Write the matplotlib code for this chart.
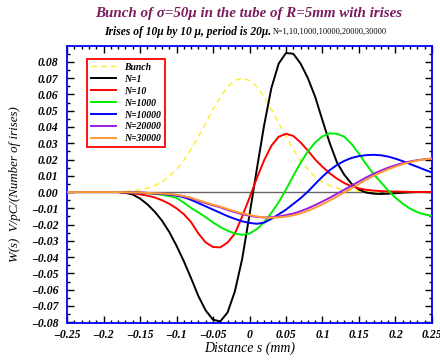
import numpy as np
import matplotlib
matplotlib.use('Agg')
import matplotlib.pyplot as plt
from matplotlib.ticker import MultipleLocator, FuncFormatter

# distance s (mm), one sample every 0.01 mm
s = np.round(np.arange(-0.25, 0.2501, 0.01), 2)

bunch = [0, 0, 0, 0, 0, 0, 0, 0.0002, 0.0004, 0.0008,
         0.0014, 0.0024, 0.0039, 0.0062, 0.0095, 0.0139, 0.0194, 0.0263, 0.0341, 0.0425,
         0.0508, 0.0585, 0.0648, 0.0686, 0.0700, 0.0686, 0.0648, 0.0585, 0.0508, 0.0425,
         0.0341, 0.0263, 0.0194, 0.0139, 0.0095, 0.0062, 0.0039, 0.0024, 0.0014, 0.0008,
         0.0004, 0.0002, 0, 0, 0, 0, 0, 0, 0, 0, 0]

n1 = [0, 0, 0, 0, 0, 0, 0, 0, -0.0005, -0.0015,
      -0.0040, -0.0075, -0.0120, -0.0175, -0.0245, -0.0330, -0.0425, -0.0530, -0.0640, -0.0728,
      -0.0785, -0.0795, -0.0740, -0.0610, -0.0410, -0.0140, 0.0140, 0.0410, 0.0640, 0.0790,
      0.0855, 0.0850, 0.0790, 0.0700, 0.0585, 0.0440, 0.0300, 0.0180, 0.0105, 0.0050,
      0.0015, -0.0003, -0.0010, -0.0012, -0.0010, -0.0007, -0.0004, -0.0002, 0, 0, 0]

n10 = [0, 0, 0, 0, 0, 0, 0, 0, -0.0003, -0.0008,
       -0.0014, -0.0022, -0.0033, -0.0050, -0.0072, -0.0100, -0.0136, -0.0185, -0.0255, -0.0310,
       -0.0338, -0.0340, -0.0310, -0.0255, -0.0150, -0.0035, 0.0085, 0.0195, 0.0285, 0.0340,
       0.0358, 0.0345, 0.0305, 0.0255, 0.0200, 0.0155, 0.0115, 0.0082, 0.0055, 0.0035,
       0.0022, 0.0014, 0.0009, 0.0006, 0.0004, 0.0003, 0.0002, 0.0001, 0, 0, 0]

n1000 = [0, 0, 0, 0, 0, 0, 0, 0, 0, -0.0002,
         -0.0004, -0.0007, -0.0011, -0.0017, -0.0024, -0.0036, -0.0065, -0.0098, -0.0125, -0.0155,
         -0.0187, -0.0215, -0.0238, -0.0255, -0.0263, -0.0255, -0.0228, -0.0185, -0.0128, -0.0062,
         0.0015, 0.0100, 0.0180, 0.0250, 0.0305, 0.0343, 0.0361, 0.0358, 0.0340, 0.0295,
         0.0235, 0.0170, 0.0110, 0.0060, 0.0010, -0.0035, -0.0072, -0.0102, -0.0124, -0.0138,
         -0.0146]

n10000 = [0, 0, 0, 0, 0, 0, 0, 0, -0.0001, -0.0002,
          -0.0004, -0.0006, -0.0009, -0.0012, -0.0016, -0.0022, -0.0032, -0.0048, -0.0068, -0.0088,
          -0.0108, -0.0128, -0.0148, -0.0165, -0.0180, -0.0190, -0.0195, -0.0188, -0.0165, -0.0137,
          -0.0108, -0.0073, -0.0038, 0.0003, 0.0050, 0.0095, 0.0135, 0.0167, 0.0192, 0.0210,
          0.0221, 0.0227, 0.0229, 0.0226, 0.0218, 0.0205, 0.0190, 0.0172, 0.0155, 0.0137,
          0.0120]

n20000 = [0, 0, 0, 0, 0, 0, 0, 0, -0.0001, -0.0002,
          -0.0003, -0.0005, -0.0007, -0.0009, -0.0012, -0.0018, -0.0026, -0.0038, -0.0054, -0.0068,
          -0.0082, -0.0094, -0.0110, -0.0124, -0.0136, -0.0146, -0.0153, -0.0156, -0.0155, -0.0150,
          -0.0142, -0.0132, -0.0118, -0.0100, -0.0080, -0.0058, -0.0035, -0.0010, 0.0015, 0.0040,
          0.0065, 0.0090, 0.0112, 0.0132, 0.0150, 0.0165, 0.0178, 0.0188, 0.0196, 0.0202,
          0.0206]

n30000 = [0, 0, 0, 0, 0, 0, 0, 0, -0.0001, -0.0002,
          -0.0003, -0.0005, -0.0007, -0.0009, -0.0012, -0.0017, -0.0025, -0.0036, -0.0050, -0.0064,
          -0.0078, -0.0090, -0.0105, -0.0119, -0.0131, -0.0141, -0.0150, -0.0156, -0.0158, -0.0156,
          -0.0151, -0.0143, -0.0131, -0.0115, -0.0096, -0.0075, -0.0052, -0.0027, -0.0002, 0.0024,
          0.0050, 0.0076, 0.0100, 0.0121, 0.0140, 0.0157, 0.0172, 0.0184, 0.0194, 0.0201,
          0.0206]

labels = ['Bunch', 'N=1', 'N=10', 'N=1000', 'N=10000', 'N=20000', 'N=30000']
colors = ['#ffee22', 'black', '#ff0000', '#00ee00', '#0000ff', '#9a1ee0', '#ff9933']

plt.rcParams['font.family'] = ['Liberation Serif', 'DejaVu Serif']
plt.rcParams['font.weight'] = 'bold'
plt.rcParams['font.style'] = 'italic'

fig = plt.figure(figsize=(4.4, 3.61), dpi=100)
ax = fig.add_axes([0.1523, 0.1053, 0.8295, 0.7673])

ax.axhline(0, color='#666666', lw=1.0, zorder=1)

series = [bunch, n1, n10, n1000, n10000, n20000, n30000]
for i, ys in enumerate(series):
    if i == 0:
        ax.plot(s, ys, color=colors[i], lw=1.0, dashes=(4, 3), label=labels[i], zorder=2)
    else:
        ax.plot(s, ys, color=colors[i], lw=1.4, label=labels[i], zorder=3)

ax.set_xlim(-0.25, 0.25)
ax.set_ylim(-0.0805, 0.0898)

ax.xaxis.set_major_locator(MultipleLocator(0.05))
ax.xaxis.set_minor_locator(MultipleLocator(0.01))
ax.yaxis.set_major_locator(MultipleLocator(0.01))
ax.yaxis.set_minor_locator(MultipleLocator(0.005))
ax.xaxis.set_major_formatter(FuncFormatter(lambda v, p: ('%g' % round(v, 3)).replace('-', '\u2013')))
ax.yaxis.set_major_formatter(FuncFormatter(lambda v, p: ('%.2f' % v).replace('-', '\u2013') if abs(v) > 1e-9 else '0.00'))

ax.tick_params(which='both', direction='in', top=True, right=True, color='black', labelsize=8.5)
ax.tick_params(which='major', length=5, width=1)
ax.tick_params(which='minor', length=2.5, width=1)
ax.tick_params(axis='x', pad=4)
ax.tick_params(axis='y', pad=6)

for sp in ax.spines.values():
    sp.set_color('#0000ff')
    sp.set_linewidth(1.3)

ax.set_xlabel('Distance s (mm)', fontsize=10)
ax.set_ylabel('W(s)  V/pC/(Number of irises)', fontsize=9.3)
ax.xaxis.set_label_coords(0.5, -0.068)
ax.yaxis.set_label_coords(-0.125, 0.5)

fig.text(0.566, 0.963, 'Bunch of σ=50μ in the tube of R=5mm with irises',
         ha='center', va='center', fontsize=10.8, color='#7a1c5e')
fig.text(0.616, 0.912, 'Irises of 10μ by 10 μ, period is 20μ.', ha='right', va='center',
         fontsize=8.3)
fig.text(0.621, 0.912, 'N=1,10,1000,10000,20000,30000', ha='left', va='center',
         fontsize=5.95, fontweight='normal', fontstyle='normal')

leg = ax.legend(loc='upper left', bbox_to_anchor=(0.0548, 0.953), borderaxespad=0,
                fontsize=7, handlelength=2.6, labelspacing=0.3, fancybox=False,
                framealpha=1, edgecolor='#ff0000', borderpad=0.4, handletextpad=0.8)
leg.get_frame().set_linewidth(1.3)

fig.savefig('out.png', dpi=100)
